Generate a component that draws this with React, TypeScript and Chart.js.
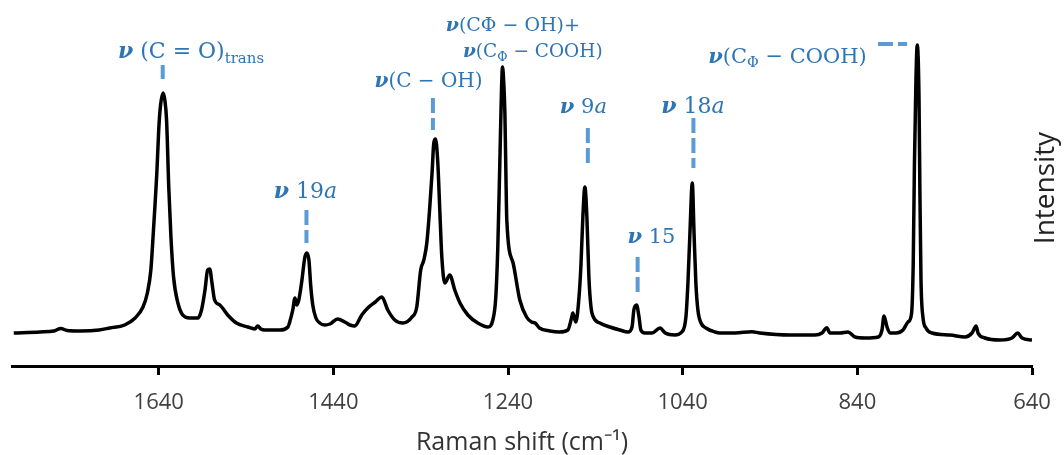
import React, { useEffect, useRef } from 'react';
import { Chart, registerables } from 'chart.js';

Chart.register(...registerables);

// Raman shift (cm-1), descending
const ramanShift = [
  1806, 1776, 1760, 1752, 1745, 1730, 1708, 1696, 1679, 1667, 1658, 1653, 1649, 1646, 1642, 1640, 1638, 1635,
  1633, 1631, 1628.5, 1626, 1623, 1618, 1612.5, 1604.5, 1595, 1591, 1587, 1584, 1581.6, 1579, 1576, 1570, 1561, 1551,
  1538, 1530, 1526.6, 1523, 1518.6, 1501, 1492, 1490, 1486.5, 1484, 1482, 1479.6, 1476, 1472.8, 1470.5, 1468,
  1466, 1463.6, 1460, 1455.6, 1450, 1444, 1435, 1427, 1421, 1415.5, 1407.5, 1400.6, 1392, 1384.5, 1377.7, 1369.7,
  1360.5, 1350, 1344.5, 1340, 1336.4, 1333, 1329.6, 1327, 1325, 1323, 1320.4, 1318, 1315.8, 1312.4, 1306.7, 1301,
  1295, 1286, 1274.6, 1263, 1257.4, 1254, 1251.7, 1249.4, 1247.5, 1246.3, 1245, 1243.6, 1242.5, 1241.4, 1234.2,
  1226.5, 1218.8, 1213, 1209, 1204, 1192, 1181, 1171.5, 1167, 1165.8, 1162.3, 1159, 1156.6, 1154.3, 1152, 1149.7,
  1147.4, 1145, 1141.7, 1134.8, 1123.4, 1112, 1102.7, 1098, 1095.9, 1092.8, 1090, 1087.9, 1083.3, 1075, 1066,
  1060, 1049, 1041, 1036.3, 1034, 1031.7, 1029, 1027, 1024.9, 1022.6, 1019, 1013.4, 1003, 997.4, 980, 960.7,
  951.6, 917, 888.5, 880.5, 875, 871.4, 860, 850.7, 842.7, 831, 816, 811.8, 809.5, 806, 802.6, 795.8, 787.7, 782,
  778, 776, 774.6, 772.9, 771.4, 769.4, 768.3, 767.1, 764.9, 761.4, 754.5, 733.9, 716.7, 708.7, 704, 701.8, 693.8,
  676.6, 662.9, 656.4, 651.4, 640,
];

// Intensity (a.u.)
const intensity = [
  33, 34, 35, 37.5, 35.5, 35, 36, 38, 41, 48, 59, 73, 96, 136, 196, 236, 260, 273,
  266, 246, 179, 129, 89, 63, 51, 48, 48, 56, 76, 96, 97, 83, 66, 61, 51, 43,
  39, 37, 40, 37, 36, 36, 39, 44, 56, 68, 61, 66, 86, 108, 113, 106,
  81, 61, 48, 43, 41, 42, 47, 44, 41, 40, 51, 58, 64, 69, 56, 46,
  43, 49, 59, 96, 106, 123, 159, 193, 223, 227, 203, 153, 109, 83, 91, 76,
  63, 51, 43, 39, 46, 69, 119, 203, 275, 299, 285, 253, 196, 146, 103,
  66, 49, 44, 43, 38, 35, 34, 36, 49, 53, 44, 66, 99, 149, 179, 149,
  89, 59, 48, 43, 39, 36, 34, 39, 56, 61, 49, 36, 33, 33, 38,
  33, 31, 34, 49, 83, 133, 183, 133, 83, 56, 43, 38, 34, 33, 33, 34.3,
  33, 31, 31, 33, 38.3, 33, 33, 34, 29, 28, 29, 36, 50, 39, 33, 33, 36, 44,
  52, 103, 203, 286, 321, 269, 169, 86, 49, 38, 33, 31, 29, 33, 40, 33, 28,
  26, 28, 33, 28, 26,
];

const tickValues = [640, 840, 1040, 1240, 1440, 1640];
const tickLabels = ['640', '840', '1040', '1240', '1440', '1640'];
const xMin = 640;
const xMax = 1808;
const yMin = 0;
const yMax = 356;

type Seg = { t: string; f: 'r' | 'i' | 'bi'; sub?: boolean };
const NU: Seg = { t: 'ν', f: 'bi' };

// band labels: centre (wavenumber, intensity) and font size
const bandLabels: { segs: Seg[]; x: number; y: number; size: number }[] = [
  { segs: [NU, { t: ' (C = O)', f: 'r' }, { t: 'trans', f: 'r', sub: true }], x: 1603, y: 316, size: 22 },
  { segs: [NU, { t: ' 19', f: 'r' }, { t: 'a', f: 'i' }], x: 1472, y: 176, size: 22 },
  { segs: [NU, { t: '(C − OH)', f: 'r' }], x: 1331, y: 286, size: 20 },
  { segs: [NU, { t: '(CΦ − OH)+', f: 'r' }], x: 1234.5, y: 342, size: 19 },
  { segs: [NU, { t: '(C', f: 'r' }, { t: 'Φ', f: 'r', sub: true }, { t: ' − COOH)', f: 'r' }], x: 1211.6, y: 316, size: 18.5 },
  { segs: [NU, { t: ' 9', f: 'r' }, { t: 'a', f: 'i' }], x: 1153.7, y: 261, size: 21 },
  { segs: [NU, { t: ' 18', f: 'r' }, { t: 'a', f: 'i' }], x: 1028.3, y: 261, size: 22 },
  { segs: [NU, { t: ' 15', f: 'r' }], x: 1075.8, y: 131, size: 21 },
  { segs: [NU, { t: '(C', f: 'r' }, { t: 'Φ', f: 'r', sub: true }, { t: ' − COOH)', f: 'r' }], x: 920, y: 311, size: 21 },
];

// dashed markers: vertical (x, y1->y2) in data units
const vMarks = [
  { x: 1635.4, y1: 301, y2: 287 },
  { x: 1470.8, y1: 156, y2: 123 },
  { x: 1326, y1: 268, y2: 236 },
  { x: 1148.6, y1: 238, y2: 203 },
  { x: 1027.7, y1: 248, y2: 198 },
  { x: 1091.6, y1: 109, y2: 73 },
];
const hMarks = [{ y: 322, x1: 816.4, x2: 783 }];

const LABEL_FONT = '"DejaVu Serif"';
const LABEL_COLOR = '#2E75B6';
const MARK_COLOR = '#5B9BD5';

function segFont(s: Seg, size: number) {
  const sz = s.sub ? size * 0.68 : size;
  const st = s.f === 'bi' ? 'italic bold ' : s.f === 'i' ? 'italic ' : '';
  return `${st}${sz}px ${LABEL_FONT}`;
}

const annotate = {
  id: 'annotate',
  afterDraw(chart: any) {
    const { ctx, scales } = chart;
    const xs = scales.x;
    const ys = scales.y;
    ctx.save();
    // markers
    ctx.strokeStyle = MARK_COLOR;
    ctx.lineWidth = 4;
    ctx.setLineDash([15, 5]);
    ctx.lineCap = 'butt';
    for (const m of vMarks) {
      const px = xs.getPixelForValue(m.x);
      ctx.beginPath();
      ctx.moveTo(px, ys.getPixelForValue(m.y1));
      ctx.lineTo(px, ys.getPixelForValue(m.y2));
      ctx.stroke();
    }
    for (const m of hMarks) {
      const py = ys.getPixelForValue(m.y);
      ctx.beginPath();
      ctx.moveTo(xs.getPixelForValue(m.x1), py);
      ctx.lineTo(xs.getPixelForValue(m.x2), py);
      ctx.stroke();
    }
    ctx.setLineDash([]);
    // labels
    ctx.fillStyle = LABEL_COLOR;
    ctx.textBaseline = 'alphabetic';
    ctx.textAlign = 'left';
    for (const l of bandLabels) {
      let total = 0;
      const widths = l.segs.map((s) => {
        ctx.font = segFont(s, l.size);
        const w = ctx.measureText(s.t).width;
        total += w;
        return w;
      });
      let cx = xs.getPixelForValue(l.x) - total / 2;
      const base = ys.getPixelForValue(l.y) + l.size * 0.36;
      l.segs.forEach((s, i) => {
        ctx.font = segFont(s, l.size);
        ctx.fillText(s.t, cx, base + (s.sub ? l.size * 0.22 : 0));
        cx += widths[i];
      });
    }
    // right axis title
    ctx.fillStyle = '#222';
    ctx.font = '28px "Open Sans"';
    ctx.textAlign = 'center';
    ctx.textBaseline = 'middle';
    ctx.translate(1046, (chart.chartArea.top + chart.chartArea.bottom) / 2);
    ctx.rotate(-Math.PI / 2);
    ctx.fillText('Intensity', 0, 0);
    ctx.restore();
  },
};

export default function App() {
  const ref = useRef<HTMLCanvasElement | null>(null);
  useEffect(() => {
    if (!ref.current) return;
    const chart = new Chart(ref.current, {
      type: 'line',
      data: {
        datasets: [
          {
            data: ramanShift.map((x, i) => ({ x, y: intensity[i] })),
            borderColor: '#000',
            borderWidth: 3.5,
            pointRadius: 0,
            fill: false,
            cubicInterpolationMode: 'monotone',
          },
        ],
      },
      options: {
        animation: false,
        responsive: false,
        layout: { padding: { left: 12, right: 32, top: 10, bottom: 0 } },
        plugins: { legend: { display: false }, tooltip: { enabled: false } },
        scales: {
          x: {
            type: 'linear',
            reverse: true,
            min: xMin,
            max: xMax,
            afterBuildTicks: (s: any) => {
              s.ticks = tickValues.map((v) => ({ value: v }));
            },
            afterFit: (s: any) => {
              s.height = 89;
            },
            grid: {
              display: true,
              drawOnChartArea: false,
              drawTicks: true,
              tickLength: 9,
              tickWidth: 3,
              tickColor: '#000',
            },
            border: { display: true, color: '#000', width: 3 },
            ticks: {
              autoSkip: false,
              maxRotation: 0,
              padding: 15,
              color: '#404040',
              font: { family: 'Open Sans', size: 22 },
              callback: (v: any) => tickLabels[tickValues.indexOf(Number(v))] ?? '',
            },
            title: {
              display: true,
              text: 'Raman shift (cm⁻¹)',
              color: '#333',
              font: { family: 'Open Sans', size: 25 },
              padding: { top: 0, bottom: -3 },
            },
          },
          y: { display: false, min: yMin, max: yMax },
        },
      },
      plugins: [annotate],
    } as any);
    return () => chart.destroy();
  }, []);
  return (
    <div style={{ position: 'fixed', left: 0, top: 0, width: 1064, height: 455, background: '#fff' }}>
      <canvas ref={ref} width={1064} height={455} style={{ display: 'block' }} />
    </div>
  );
}
